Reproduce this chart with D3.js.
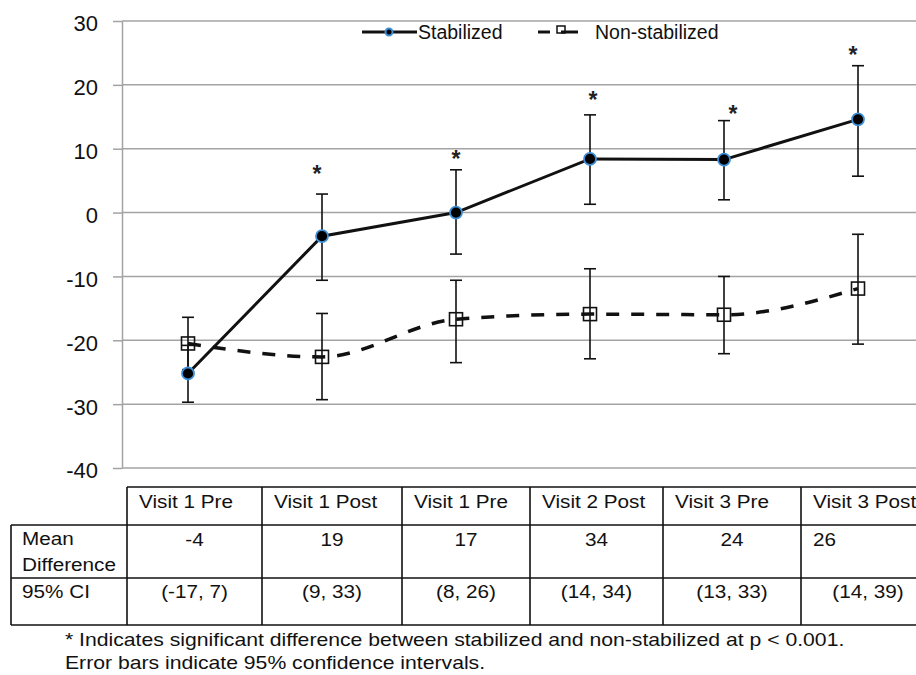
<!DOCTYPE html>
<html>
<head>
<meta charset="utf-8">
<script src="https://cdn.jsdelivr.net/npm/d3@7/dist/d3.min.js"></script>
<style>
  html, body { margin: 0; padding: 0; background: #fff; }
  svg { display: block; font-family: "Liberation Sans", Arial, Helvetica, sans-serif; }
</style>
</head>
<body>
<svg id="chart" width="916" height="675"></svg>
<script>
// ---------- DATA ----------
const categories = ["Visit 1 Pre", "Visit 1 Post", "Visit 1 Pre", "Visit 2 Post", "Visit 3 Pre", "Visit 3 Post"];
const seriesNames = ["Stabilized", "Non-stabilized"];
const stabMean = [-25.2, -3.7, 0.0, 8.4, 8.3, 14.6];
const stabLow  = [-29.7, -10.6, -6.5, 1.3, 2.0, 5.7];
const stabHigh = [-20.8, 2.9, 6.7, 15.3, 14.4, 23.0];
const nonMean  = [-20.5, -22.6, -16.7, -15.9, -16.0, -11.9];
const nonLow   = [-24.6, -29.3, -23.5, -22.9, -22.1, -20.6];
const nonHigh  = [-16.4, -15.8, -10.6, -8.8, -10.0, -3.4];
const starLevel = [null, 6.8, 9.2, 18.4, 16.2, 25.5];
const yTicks = [30, 20, 10, 0, -10, -20, -30, -40];
const rowLabels = [["Mean", "Difference"], ["95% CI"]];
const meanDiff = ["-4", "19", "17", "34", "24", "26"];
const ci95 = ["(-17, 7)", "(9, 33)", "(8, 26)", "(14, 34)", "(13, 33)", "(14, 39)"];
const footnotes = [
  "* Indicates significant difference between stabilized and non-stabilized at p < 0.001.",
  "Error bars indicate 95% confidence intervals."
];

// ---------- LAYOUT ----------
const svg = d3.select("#chart");
const plotLeft = 122, plotRight = 916, plotTop = 21, plotBottom = 468;
const bandStart = 121, bandStep = 134;
const starNudge = [0, -5, 0, 3, 9, -5];
const colEdges = [11, 127, 262, 402, 530, 663, 801, 935];
const rowEdges = [487, 525, 578, 625];
const gridColor = "#a3a3a3";
const blue = "#3d8fd8";

const x = d3.scaleBand().domain(d3.range(categories.length))
  .range([bandStart, bandStart + bandStep * categories.length]).padding(0);
const cx = i => x(i) + x.bandwidth() / 2;
const y = d3.scaleLinear().domain([-40, 30]).range([plotBottom, plotTop]);

// gridlines
svg.append("g").selectAll("line").data(yTicks).join("line")
  .attr("x1", plotLeft).attr("x2", plotRight)
  .attr("y1", d => y(d)).attr("y2", d => y(d))
  .attr("stroke", gridColor).attr("stroke-width", 1.5);

// y axis
const yAxis = svg.append("g").attr("transform", `translate(${plotLeft},0)`)
  .call(d3.axisLeft(y).tickValues(yTicks).tickSize(9).tickSizeOuter(0).tickPadding(15).tickFormat(d => String(d)));
yAxis.select(".domain").attr("stroke", gridColor).attr("stroke-width", 1.5);
yAxis.selectAll(".tick line").attr("stroke", gridColor).attr("stroke-width", 1.5);
yAxis.selectAll(".tick text").attr("font-size", 22).attr("fill", "#111")
  .attr("font-family", "Liberation Sans, Arial, sans-serif").attr("dy", "0.45em");

// series lines
const stabData = d3.range(categories.length).map(i => ({ i, v: stabMean[i], lo: stabLow[i], hi: stabHigh[i] }));
const nonData = d3.range(categories.length).map(i => ({ i, v: nonMean[i], lo: nonLow[i], hi: nonHigh[i] }));
const line = d3.line().x(d => cx(d.i)).y(d => y(d.v)).curve(d3.curveMonotoneX);
const lineStraight = d3.line().x(d => cx(d.i)).y(d => y(d.v));

svg.append("path").datum(nonData).attr("d", line)
  .attr("fill", "none").attr("stroke", "#111").attr("stroke-width", 3.5).attr("stroke-dasharray", "13,12");

// error bars
function errorBars(data) {
  const g = svg.append("g").attr("stroke", "#111").attr("stroke-width", 1.6);
  data.forEach(d => {
    g.append("line").attr("x1", cx(d.i)).attr("x2", cx(d.i)).attr("y1", y(d.lo)).attr("y2", y(d.hi));
    [d.lo, d.hi].forEach(v => g.append("line")
      .attr("x1", cx(d.i) - 6).attr("x2", cx(d.i) + 6).attr("y1", y(v)).attr("y2", y(v)));
  });
}
errorBars(nonData);

// non-stabilized squares
svg.append("g").selectAll("rect").data(nonData).join("rect")
  .attr("x", d => cx(d.i) - 6.5).attr("y", d => y(d.v) - 6.5)
  .attr("width", 13).attr("height", 13)
  .attr("fill", "none").attr("stroke", "#111").attr("stroke-width", 1.6);

svg.append("path").datum(stabData).attr("d", lineStraight)
  .attr("fill", "none").attr("stroke", "#111").attr("stroke-width", 3);
errorBars(stabData);

svg.append("g").selectAll("circle").data(stabData).join("circle")
  .attr("cx", d => cx(d.i)).attr("cy", d => y(d.v)).attr("r", 6)
  .attr("fill", "#000").attr("stroke", blue).attr("stroke-width", 1.8);

// stars
svg.append("g").selectAll("text").data(d3.range(categories.length).filter(i => starLevel[i] != null)).join("text")
  .attr("x", i => cx(i) + starNudge[i]).attr("y", i => y(starLevel[i]) + 13)
  .attr("text-anchor", "middle").attr("font-size", 23).attr("font-weight", "bold").attr("fill", "#222").text("*");

// legend
const lg = svg.append("g");
lg.append("line").attr("x1", 362).attr("x2", 417).attr("y1", 32).attr("y2", 32).attr("stroke", "#111").attr("stroke-width", 3);
lg.append("circle").attr("cx", 389).attr("cy", 32).attr("r", 3.5).attr("fill", "#000").attr("stroke", blue).attr("stroke-width", 2);
lg.append("text").attr("x", 418).attr("y", 39).attr("font-size", 19.5).attr("fill", "#111").text(seriesNames[0]);
lg.append("line").attr("x1", 538).attr("x2", 550).attr("y1", 32).attr("y2", 32).attr("stroke", "#111").attr("stroke-width", 3);
lg.append("rect").attr("x", 557).attr("y", 26).attr("width", 8).attr("height", 7).attr("fill", "none").attr("stroke", "#111").attr("stroke-width", 1.5);
lg.append("line").attr("x1", 561).attr("x2", 578).attr("y1", 32).attr("y2", 32).attr("stroke", "#111").attr("stroke-width", 3);
lg.append("text").attr("x", 595).attr("y", 39).attr("font-size", 19.5).attr("fill", "#111").text(seriesNames[1]);

// ---------- TABLE ----------
const tg = svg.append("g");
const sx = 1.12, tfs = 18.5;
function ttext(txt, tx, ty, anchor, scale) {
  tg.append("text").attr("transform", `translate(${tx},${ty}) scale(${scale || sx},1)`)
    .attr("text-anchor", anchor || "start").attr("font-size", tfs).attr("fill", "#111").text(txt);
}
const tl = (x1, y1, x2, y2) => tg.append("line").attr("x1", x1).attr("y1", y1).attr("x2", x2).attr("y2", y2)
  .attr("stroke", "#111").attr("stroke-width", 1.6);
const last = colEdges.length - 1;
tl(colEdges[1], rowEdges[0], colEdges[last], rowEdges[0]);
tl(colEdges[0], rowEdges[1], colEdges[last], rowEdges[1]);
tl(colEdges[0], rowEdges[2], colEdges[last], rowEdges[2]);
tl(colEdges[0], rowEdges[3], colEdges[last], rowEdges[3]);
tl(colEdges[0], rowEdges[1], colEdges[0], rowEdges[3]);
for (let c = 1; c < last; c++) tl(colEdges[c], rowEdges[0], colEdges[c], rowEdges[3]);

categories.forEach((c, i) => {
  const l = colEdges[i + 1], r = colEdges[i + 2], m = (l + r) / 2;
  ttext(c, l + 12, 508, "start");
  if (i === categories.length - 1) ttext(meanDiff[i], l + 12, 546, "start");
  else ttext(meanDiff[i], m, 546, "middle");
  ttext(ci95[i], m, 598, "middle");
});
ttext(rowLabels[0][0], 22, 545);
ttext(rowLabels[0][1], 22, 571);
ttext(rowLabels[1][0], 22, 598);

footnotes.forEach((f, k) => ttext(f, 65, k === 0 ? 646 : 669, "start", 1.145));
</script>
</body>
</html>
